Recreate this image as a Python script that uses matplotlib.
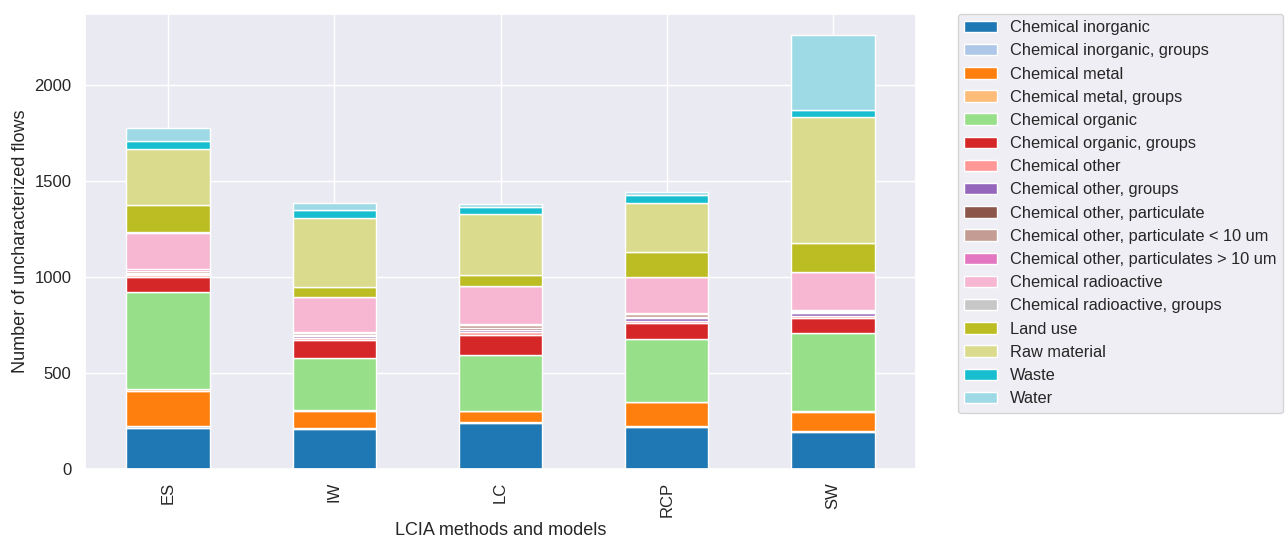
import pandas as pd
import matplotlib.pyplot as plt
import seaborn as sns

sns.set_theme(style='darkgrid')
plt.rcParams['font.family'] = ['Liberation Sans', 'DejaVu Sans']
plt.rcParams['axes.labelsize'] = 13
plt.rcParams['xtick.labelsize'] = 12
plt.rcParams['ytick.labelsize'] = 12
plt.rcParams['legend.fontsize'] = 11.8

methods = ['ES', 'IW', 'LC', 'RCP', 'SW']

categories = ['Chemical inorganic', 'Chemical inorganic, groups', 'Chemical metal',
              'Chemical metal, groups', 'Chemical organic', 'Chemical organic, groups',
              'Chemical other', 'Chemical other, groups', 'Chemical other, particulate',
              'Chemical other, particulate < 10 um', 'Chemical other, particulates > 10 um',
              'Chemical radioactive', 'Chemical radioactive, groups', 'Land use',
              'Raw material', 'Waste', 'Water']

# counts per category, order: ES, IW, LC, RCP, SW
chem_inorganic = [210, 205, 240, 216, 191]
chem_inorganic_groups = [10, 8, 4, 8, 6]
chem_metal = [185, 90, 56, 124, 100]
chem_metal_groups = [8, 2, 2, 2, 3]
chem_organic = [510, 270, 291, 328, 406]
chem_organic_groups = [75, 96, 102, 84, 78]
chem_other = [12, 12, 16, 8, 12]
chem_other_groups = [8, 8, 14, 14, 16]
chem_other_part = [4, 4, 8, 5, 4]
chem_other_part_lt10 = [12, 12, 16, 16, 8]
chem_other_part_gt10 = [6, 6, 8, 8, 4]
chem_radioactive = [192, 182, 195, 185, 197]
chem_radioactive_groups = [4, 3, 3, 3, 3]
land_use = [139, 50, 53, 129, 150]
raw_material = [295, 358, 320, 256, 658]
waste = [42, 42, 38, 41, 38]
water = [67, 36, 14, 17, 388]

df = pd.DataFrame({
    'Chemical inorganic': chem_inorganic,
    'Chemical inorganic, groups': chem_inorganic_groups,
    'Chemical metal': chem_metal,
    'Chemical metal, groups': chem_metal_groups,
    'Chemical organic': chem_organic,
    'Chemical organic, groups': chem_organic_groups,
    'Chemical other': chem_other,
    'Chemical other, groups': chem_other_groups,
    'Chemical other, particulate': chem_other_part,
    'Chemical other, particulate < 10 um': chem_other_part_lt10,
    'Chemical other, particulates > 10 um': chem_other_part_gt10,
    'Chemical radioactive': chem_radioactive,
    'Chemical radioactive, groups': chem_radioactive_groups,
    'Land use': land_use,
    'Raw material': raw_material,
    'Waste': waste,
    'Water': water,
}, index=methods)[categories]

fig, ax = plt.subplots(figsize=(12.85, 5.43), dpi=100)
df.plot(kind='bar', stacked=True, ax=ax, colormap='tab20', edgecolor='white', linewidth=1)

ax.set_xlabel('LCIA methods and models')
ax.set_ylabel('Number of uncharacterized flows')
ax.legend(bbox_to_anchor=(1.05, 1), loc='upper left', borderaxespad=0)

plt.subplots_adjust(left=0.066, right=0.713, top=0.975, bottom=0.137)
plt.savefig('out.png')
